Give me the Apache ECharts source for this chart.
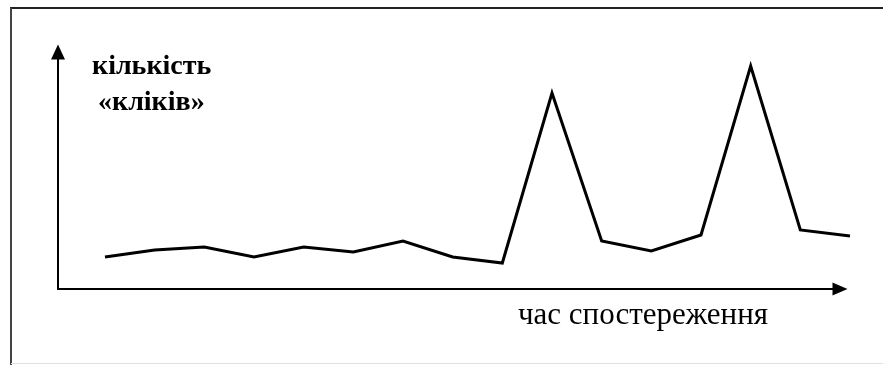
<!DOCTYPE html>
<html>
<head>
<meta charset="utf-8">
<script src="https://cdn.jsdelivr.net/npm/echarts@6/dist/echarts.min.js"></script>
<style>
html,body{margin:0;padding:0;background:#fff;}
#chart{width:883px;height:365px;}
</style>
</head>
<body>
<div id="chart"></div>
<script>
const timeIndex = [0, 1, 2, 3, 4, 5, 6, 7, 8, 9, 10, 11, 12, 13, 14, 15];
const clicks = [32, 39, 42, 32, 42, 37, 48, 32, 26, 196, 48, 38, 54, 223, 59, 53];
const yAxisTitle = ['кількість', '«кліків»'];
const xAxisTitle = 'час спостереження';

const seriesData = timeIndex.map((t, i) => [t, clicks[i]]);

const chart = echarts.init(document.getElementById('chart'), null, {renderer: 'canvas'});
const font = '"Liberation Serif", "Times New Roman", serif';
const hidden = {axisLine: {show: false}, axisTick: {show: false}, axisLabel: {show: false}, splitLine: {show: false}};
chart.setOption({
  animation: false,
  backgroundColor: '#ffffff',
  grid: [
    {left: 58, right: 43, top: 52, bottom: 76, containLabel: false},
    {left: 58, right: 32, top: 52, bottom: 76, containLabel: false}
  ],
  xAxis: [{
    gridIndex: 0, type: 'value', min: -0.946, max: 14.8,
    axisLine: {show: true, onZero: false, symbol: ['none', 'triangle'], symbolSize: [13, 15],
      lineStyle: {color: '#000', width: 2}},
    axisTick: {show: false}, axisLabel: {show: false}, splitLine: {show: false}
  }, Object.assign({gridIndex: 1, type: 'value', min: -0.946, max: 15.02}, hidden)],
  yAxis: [{
    gridIndex: 0, type: 'value', min: 0, max: 237,
    axisLine: {show: true, onZero: false, symbol: ['none', 'triangle'], symbolSize: [14, 15],
      lineStyle: {color: '#000', width: 2}},
    axisTick: {show: false}, axisLabel: {show: false}, splitLine: {show: false}
  }, Object.assign({gridIndex: 1, type: 'value', min: 0, max: 237}, hidden)],
  series: [{
    type: 'line', xAxisIndex: 1, yAxisIndex: 1, data: seriesData, showSymbol: false, symbol: 'none', clip: false,
    lineStyle: {color: '#000', width: 3, join: 'miter'}
  }],
  graphic: [
    {type: 'line', shape: {x1: 10, y1: 8, x2: 883, y2: 8}, style: {stroke: '#222', lineWidth: 2}, silent: true},
    {type: 'line', shape: {x1: 11, y1: 8, x2: 11, y2: 365}, style: {stroke: '#444', lineWidth: 2}, silent: true},
    {type: 'line', shape: {x1: 11, y1: 363.5, x2: 883, y2: 363.5}, style: {stroke: '#e0e0e0', lineWidth: 1}, silent: true},
    {type: 'text', left: 92, top: 53, style: {text: yAxisTitle[0], font: 'bold 28px ' + font, fill: '#000'}},
    {type: 'text', left: 98, top: 89, style: {text: yAxisTitle[1], font: 'bold 28px ' + font, fill: '#000'}},
    {type: 'text', left: 518, top: 300, style: {text: xAxisTitle, font: '31px ' + font, fill: '#000'}}
  ]
});
</script>
</body>
</html>
